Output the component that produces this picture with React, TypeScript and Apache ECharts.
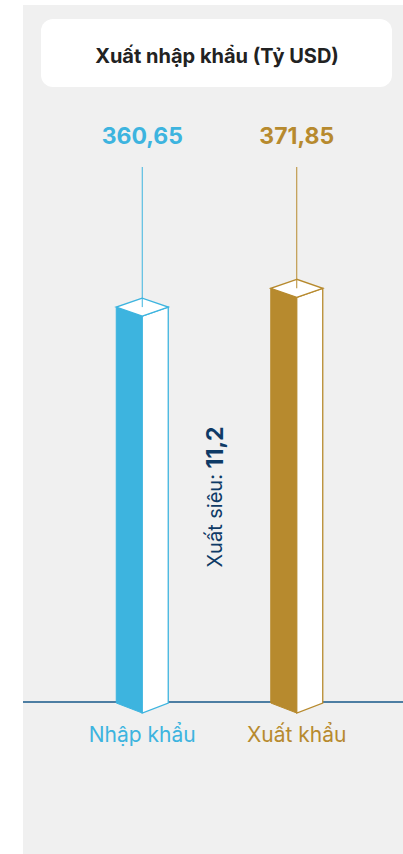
import React, { useEffect, useRef } from "react";
import * as echarts from "echarts";

// Trade totals, billion USD
const categories = ["Nhập khẩu", "Xuất khẩu"];
const values = [360.65, 371.85];
const colors = ["#3db4df", "#b78a2e"];
const title = "Xuất nhập khẩu (Tỷ USD)";
const surplusLabel = "Xuất siêu: ";

const Y_MIN = 125;
const Y_MAX = 425;
const FONT = "Inter, 'Noto Sans', sans-serif";
const NAVY = "#0e3a66";

const fmt = (v: number, d: number) => v.toFixed(d).replace(".", ",");

export default function App() {
  const ref = useRef<HTMLDivElement>(null);

  useEffect(() => {
    if (!ref.current) return;
    const chart = echarts.init(ref.current, undefined, { renderer: "svg" });
    const surplus = values[1] - values[0];

    const renderItem = (params: any, api: any) => {
      const idx = params.dataIndex;
      const color = colors[idx];
      const top = api.coord([api.value(0), api.value(1)]);
      const base = api.coord([api.value(0), Y_MIN]);
      const xc = top[0];
      const half = 26;
      const xl = xc - half;
      const xr = xc + half;
      const yt = top[1];
      const yb = base[1];
      const dTop = 9;
      const dBot = 10;
      return {
        type: "group",
        children: [
          {
            type: "polygon",
            shape: {
              points: [
                [xl, yt],
                [xc, yt + dTop],
                [xc, yb + dBot],
                [xl, yb],
              ],
            },
            style: { fill: color, stroke: color, lineWidth: 1 },
          },
          {
            type: "polygon",
            shape: {
              points: [
                [xc, yt + dTop],
                [xr, yt],
                [xr, yb],
                [xc, yb + dBot],
              ],
            },
            style: { fill: "#ffffff", stroke: color, lineWidth: 1.3 },
          },
          {
            type: "polygon",
            shape: {
              points: [
                [xc, yt - dTop],
                [xl, yt],
                [xc, yt + dTop],
                [xr, yt],
              ],
            },
            style: { fill: "#ffffff", stroke: color, lineWidth: 1.3 },
          },
          {
            type: "line",
            shape: { x1: xc, y1: 167, x2: xc, y2: yt },
            style: { stroke: color, lineWidth: 1 },
          },
          {
            type: "text",
            x: xc,
            y: 136,
            style: {
              text: fmt(api.value(1), 2),
              fill: color,
              font: `bold 23px ${FONT}`,
              align: "center",
              verticalAlign: "middle",
            },
          },
        ],
      };
    };

    chart.setOption({
      animation: false,
      grid: { left: 65, right: 29, top: 199, bottom: 151 },
      xAxis: {
        type: "category",
        data: categories,
        axisLine: { show: false },
        axisTick: { show: false },
        axisLabel: {
          margin: 21,
          fontSize: 21,
          fontFamily: FONT,
          color: (_v: any, i: number) => colors[i],
        },
      },
      yAxis: {
        type: "value",
        min: Y_MIN,
        max: Y_MAX,
        show: false,
        splitLine: { show: false },
      },
      graphic: [
        {
          type: "rect",
          z: -10,
          shape: { x: 23, y: 5, width: 380, height: 849 },
          style: { fill: "#f0f0f0" },
        },
        {
          type: "rect",
          z: -9,
          shape: { x: 41, y: 19, width: 351, height: 68, r: 12 },
          style: { fill: "#ffffff" },
        },
        {
          type: "text",
          z: -8,
          x: 217,
          y: 56,
          style: {
            text: title,
            fill: "#222222",
            font: `bold 20px ${FONT}`,
            align: "center",
            verticalAlign: "middle",
          },
        },
        {
          type: "line",
          z: -8,
          shape: { x1: 23, y1: 702, x2: 403, y2: 702 },
          style: { stroke: "#17588a", lineWidth: 1.3 },
        },
        {
          type: "text",
          x: 215,
          y: 497,
          rotation: Math.PI / 2,
          style: {
            text: `{a|${surplusLabel}}{b|${fmt(surplus, 1)}}`,
            align: "center",
            verticalAlign: "middle",
            fill: NAVY,
            rich: {
              a: { fontSize: 20, fontFamily: FONT, fill: NAVY },
              b: { fontSize: 23, fontWeight: "bold", fontFamily: FONT, fill: NAVY },
            },
          },
        },
      ],
      series: [
        {
          type: "custom",
          renderItem,
          encode: { x: 0, y: 1 },
          data: values.map((v, i) => [i, v]),
          z: 5,
        },
      ],
    });

    return () => chart.dispose();
  }, []);

  return (
    <div
      ref={ref}
      style={{ position: "fixed", left: 0, top: 0, width: 403, height: 854, background: "#ffffff" }}
    />
  );
}
